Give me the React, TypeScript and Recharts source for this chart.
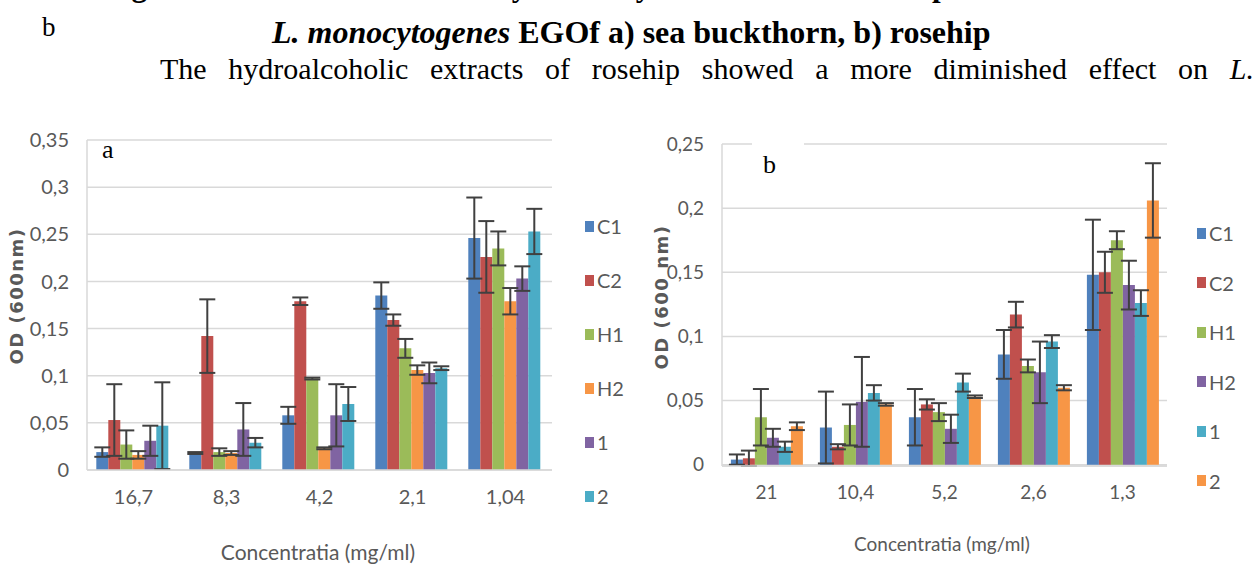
import React from 'react';
import { BarChart, Bar, XAxis, YAxis, CartesianGrid, ErrorBar } from 'recharts';

// panel a - sea buckthorn
const categoriesA = ['16,7', '8,3', '4,2', '2,1', '1,04'];
const seriesA = ['C1', 'C2', 'H1', 'H2', '1', '2'];
const colorsA = ['#4f81bd', '#c0504d', '#9bbb59', '#f79646', '#8064a2', '#4bacc6'];
const valuesA = [
  [0.019, 0.018, 0.058, 0.185, 0.246],
  [0.053, 0.142, 0.179, 0.159, 0.226],
  [0.027, 0.019, 0.097, 0.129, 0.235],
  [0.016, 0.018, 0.023, 0.106, 0.179],
  [0.031, 0.043, 0.058, 0.103, 0.203],
  [0.047, 0.029, 0.070, 0.108, 0.253],
];
const errorsA = [
  [0.005, 0.001, 0.009, 0.014, 0.043],
  [0.038, 0.039, 0.004, 0.006, 0.038],
  [0.015, 0.004, 0.001, 0.010, 0.018],
  [0.004, 0.002, 0.001, 0.005, 0.014],
  [0.016, 0.028, 0.033, 0.011, 0.013],
  [0.046, 0.005, 0.018, 0.002, 0.024],
];
const ticksA = [0, 0.05, 0.1, 0.15, 0.2, 0.25, 0.3, 0.35];

// panel b - rosehip
const categoriesB = ['21', '10,4', '5,2', '2,6', '1,3'];
const seriesB = ['C1', 'C2', 'H1', 'H2', '1', '2'];
const colorsB = ['#4f81bd', '#c0504d', '#9bbb59', '#8064a2', '#4bacc6', '#f79646'];
const valuesB = [
  [0.004, 0.029, 0.037, 0.086, 0.148],
  [0.005, 0.014, 0.047, 0.117, 0.150],
  [0.037, 0.031, 0.041, 0.077, 0.175],
  [0.021, 0.049, 0.028, 0.072, 0.140],
  [0.014, 0.056, 0.064, 0.096, 0.126],
  [0.030, 0.047, 0.053, 0.060, 0.206],
];
const errorsB = [
  [0.004, 0.028, 0.022, 0.019, 0.043],
  [0.006, 0.002, 0.004, 0.010, 0.016],
  [0.022, 0.016, 0.007, 0.005, 0.007],
  [0.007, 0.035, 0.011, 0.024, 0.019],
  [0.004, 0.006, 0.007, 0.005, 0.010],
  [0.003, 0.001, 0.001, 0.002, 0.029],
];
const ticksB = [0, 0.05, 0.1, 0.15, 0.2, 0.25];

const TICK_FONT = 'Lato, sans-serif';
const GREY = '#595959';

const buildRows = (cats: string[], vals: number[][], errs: number[][]) =>
  cats.map((cat, i) => {
    const row: Record<string, any> = { cat };
    vals.forEach((v, s) => {
      row['s' + s] = v[i];
      row['e' + s] = errs[s][i];
    });
    return row;
  });

const fmt = (v: number) => String(v).replace('.', ',');

interface PanelProps {
  left: number;
  top: number;
  width: number;
  height: number;
  margin: { top: number; right: number; bottom: number; left: number };
  categories: string[];
  series: string[];
  colors: string[];
  values: number[][];
  errors: number[][];
  ticks: number[];
  fontSize: number;
}

const Panel: React.FC<PanelProps> = (p) => {
  const rows = buildRows(p.categories, p.values, p.errors);
  return (
    <div style={{ position: 'absolute', left: p.left, top: p.top }}>
      <BarChart width={p.width} height={p.height} data={rows} margin={p.margin} barCategoryGap="10%" barGap={0}>
        <CartesianGrid vertical={false} stroke="#d9d9d9" strokeWidth={1.5} />
        <XAxis dataKey="cat" axisLine={{ stroke: '#d9d9d9', strokeWidth: 1.5 }} tickLine={false} height={30}
          tick={{ fontSize: p.fontSize, fill: GREY, fontFamily: TICK_FONT }} dy={12} />
        <YAxis domain={[0, p.ticks[p.ticks.length - 1]]} ticks={p.ticks} tickFormatter={fmt} width={60}
          axisLine={{ stroke: '#d9d9d9', strokeWidth: 1.5 }} tickLine={false} interval={0}
          tick={{ fontSize: p.fontSize, fill: GREY, fontFamily: TICK_FONT }} dx={-10} />
        {p.series.map((name, s) => (
          <Bar key={name} dataKey={'s' + s} name={name} fill={p.colors[s]} isAnimationActive={false}>
            <ErrorBar dataKey={'e' + s} width={8} strokeWidth={2} stroke="#404040" direction="y" isAnimationActive={false} />
          </Bar>
        ))}
      </BarChart>
    </div>
  );
};

const LegendList: React.FC<{ left: number; top: number; step: number; series: string[]; colors: string[] }> = ({ left, top, step, series, colors }) => (
  <div style={{ position: 'absolute', left, top: 0 }}>
    {series.map((name, i) => (
      <div key={name} style={{ position: 'absolute', left: 0, top: top + i * step - 12, display: 'flex', alignItems: 'center', whiteSpace: 'nowrap', fontFamily: TICK_FONT, fontSize: 20, color: GREY }}>
        <span style={{ display: 'inline-block', width: 9, height: 11, background: colors[i], marginRight: 3 }} />
        {name}
      </div>
    ))}
  </div>
);

const rotated = (text: string, cx: number, cy: number): React.ReactNode => (
  <div style={{ position: 'absolute', left: cx - 100, top: cy - 12, width: 200, height: 24, textAlign: 'center', transform: 'rotate(-90deg)',
    fontFamily: '"DejaVu Sans", sans-serif', fontSize: 18, fontWeight: 600, color: GREY, letterSpacing: 1.5, lineHeight: '24px', whiteSpace: 'nowrap' }}>
    {text}
  </div>
);

export default function App() {
  return (
    <div style={{ position: 'absolute', left: 0, top: 0, width: 1258, height: 570, background: '#fff', overflow: 'hidden', fontFamily: '"Liberation Serif", "Times New Roman", serif' }}>
      {/* page text around the figure; the first line is cut by the crop */}
      <div style={{ position: 'absolute', left: 0, top: -32, width: 1258, textAlign: 'center', fontSize: 31, fontWeight: 700, whiteSpace: 'nowrap' }}>
        Figure 3. The MIC and MBC cytotoxicity concentration of the plant extracts on
      </div>
      <div style={{ position: 'absolute', left: 42, top: 12, fontSize: 27 }}>b</div>
      <div style={{ position: 'absolute', left: 272, top: 14, fontSize: 32, fontWeight: 700, whiteSpace: 'nowrap' }}>
        <i>L. monocytogenes</i> EGOf a) sea buckthorn, b) rosehip
      </div>
      <div style={{ position: 'absolute', left: 160, top: 52, width: 1094, fontSize: 30, whiteSpace: 'nowrap', display: 'flex', justifyContent: 'space-between' }}>
        {'The hydroalcoholic extracts of rosehip showed a more diminished effect on'.split(' ').map((w, i) => <span key={i}>{w}</span>)}
        <i>L.</i>
      </div>

      <Panel left={0} top={100} width={640} height={470} margin={{ top: 40, right: 88, bottom: 70, left: 27 }}
        categories={categoriesA} series={seriesA} colors={colorsA} values={valuesA} errors={errorsA} ticks={ticksA} fontSize={20} />
      <Panel left={640} top={100} width={618} height={470} margin={{ top: 44, right: 91, bottom: 74, left: 22 }}
        categories={categoriesB} series={seriesB} colors={colorsB} values={valuesB} errors={errorsB} ticks={ticksB} fontSize={19} />

      <div style={{ position: 'absolute', left: 102, top: 135, fontSize: 26 }}>a</div>
      <div style={{ position: 'absolute', left: 752, top: 138, width: 52, height: 30, background: '#fff' }} />
      <div style={{ position: 'absolute', left: 763, top: 150, fontSize: 26 }}>b</div>

      {rotated('OD (600nm)', 17, 296)}
      {rotated('OD (600 nm)', 662, 297)}

      <div style={{ position: 'absolute', left: 218, top: 539, width: 200, textAlign: 'center', fontFamily: TICK_FONT, fontSize: 21, color: GREY, whiteSpace: 'nowrap' }}>
        Concentratia (mg/ml)
      </div>
      <div style={{ position: 'absolute', left: 842, top: 532, width: 200, textAlign: 'center', fontFamily: TICK_FONT, fontSize: 19, color: GREY, whiteSpace: 'nowrap' }}>
        Concentratia (mg/ml)
      </div>

      <LegendList left={585} top={226} step={54} series={seriesA} colors={colorsA} />
      <LegendList left={1197} top={233} step={49.5} series={seriesB} colors={colorsB} />
    </div>
  );
}
